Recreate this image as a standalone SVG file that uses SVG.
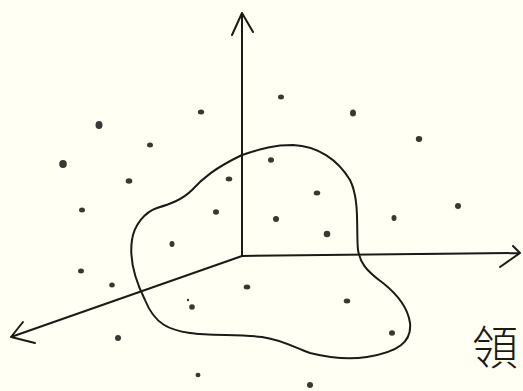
<svg xmlns="http://www.w3.org/2000/svg" width="523" height="391" viewBox="0 0 523 391">
<style>
.ln{fill:none;stroke:#1c1a17;stroke-width:2;stroke-linecap:round;stroke-linejoin:round}
.dt{fill:#3a3834}
.lbl{font-family:"Noto Sans CJK TC","Noto Sans CJK SC",sans-serif;font-size:46px;fill:#1c1a17;font-weight:300}
</style>
<rect width="523" height="391" fill="#fffff4"/>
<g id="axes">
<path class="ln" d="M242,256 L242,13 M232,35 L242,13 L253,32"/>
<path class="ln" d="M242,256 L520,253 M513,246 L520,253 L500,267"/>
<path class="ln" d="M242,256 L11,337 M23,322 L11,337 L35,343"/>
</g>
<g id="region">
<path class="ln" d="M242,155 C258,150 270,145 293,145 C318,146 338,160 350,180 C360,200 356,230 358,250 C360,262 365,270 383,283 C398,295 408,308 410,323 C412,342 398,352 367,357 C348,360 330,358 310,353 C295,348 283,340 262,337 C240,334 210,336 190,333 C170,330 155,325 145,300 C135,280 129,260 132,240 C134,225 145,212 157,208 C170,204 182,200 192,190 C203,178 215,168 242,155 Z"/>
</g>
<g id="points">
<ellipse class="dt" cx="281" cy="97" rx="3" ry="2.5"/>
<ellipse class="dt" cx="201" cy="112" rx="3.2" ry="2.5"/>
<ellipse class="dt" cx="353" cy="113" rx="3" ry="3.5"/>
<ellipse class="dt" cx="99" cy="125" rx="3.5" ry="4"/>
<ellipse class="dt" cx="419" cy="139" rx="3.2" ry="3"/>
<ellipse class="dt" cx="150" cy="145" rx="3" ry="2.5"/>
<ellipse class="dt" cx="63" cy="164" rx="3.8" ry="4"/>
<ellipse class="dt" cx="271" cy="160" rx="3" ry="2.7"/>
<ellipse class="dt" cx="129" cy="181" rx="3.3" ry="2.7"/>
<ellipse class="dt" cx="229" cy="179" rx="3.3" ry="2.5"/>
<ellipse class="dt" cx="317" cy="193" rx="3.3" ry="2.5"/>
<ellipse class="dt" cx="82" cy="210" rx="3" ry="2.5"/>
<ellipse class="dt" cx="216" cy="212" rx="3" ry="2.7"/>
<ellipse class="dt" cx="458" cy="206" rx="3" ry="3"/>
<ellipse class="dt" cx="276" cy="219" rx="3" ry="3"/>
<ellipse class="dt" cx="394" cy="218" rx="2.5" ry="3"/>
<ellipse class="dt" cx="327" cy="234" rx="3.3" ry="3.2"/>
<ellipse class="dt" cx="172" cy="244" rx="2.5" ry="3"/>
<ellipse class="dt" cx="81" cy="271" rx="3" ry="2.5"/>
<ellipse class="dt" cx="112" cy="285" rx="2.8" ry="2.5"/>
<ellipse class="dt" cx="247" cy="287" rx="3.3" ry="2.5"/>
<ellipse class="dt" cx="192" cy="307" rx="2.8" ry="2.8"/>
<ellipse class="dt" cx="188" cy="300" rx="1.2" ry="1.2"/>
<ellipse class="dt" cx="347" cy="301" rx="3.3" ry="2.5"/>
<ellipse class="dt" cx="118" cy="338" rx="3" ry="3"/>
<ellipse class="dt" cx="392" cy="333" rx="3" ry="2.8"/>
<ellipse class="dt" cx="198" cy="375" rx="2.5" ry="2.2"/>
<ellipse class="dt" cx="310" cy="385" rx="3" ry="3"/>
</g>
<g id="label">
<text class="lbl" x="472" y="364">領</text>
</g>
</svg>
